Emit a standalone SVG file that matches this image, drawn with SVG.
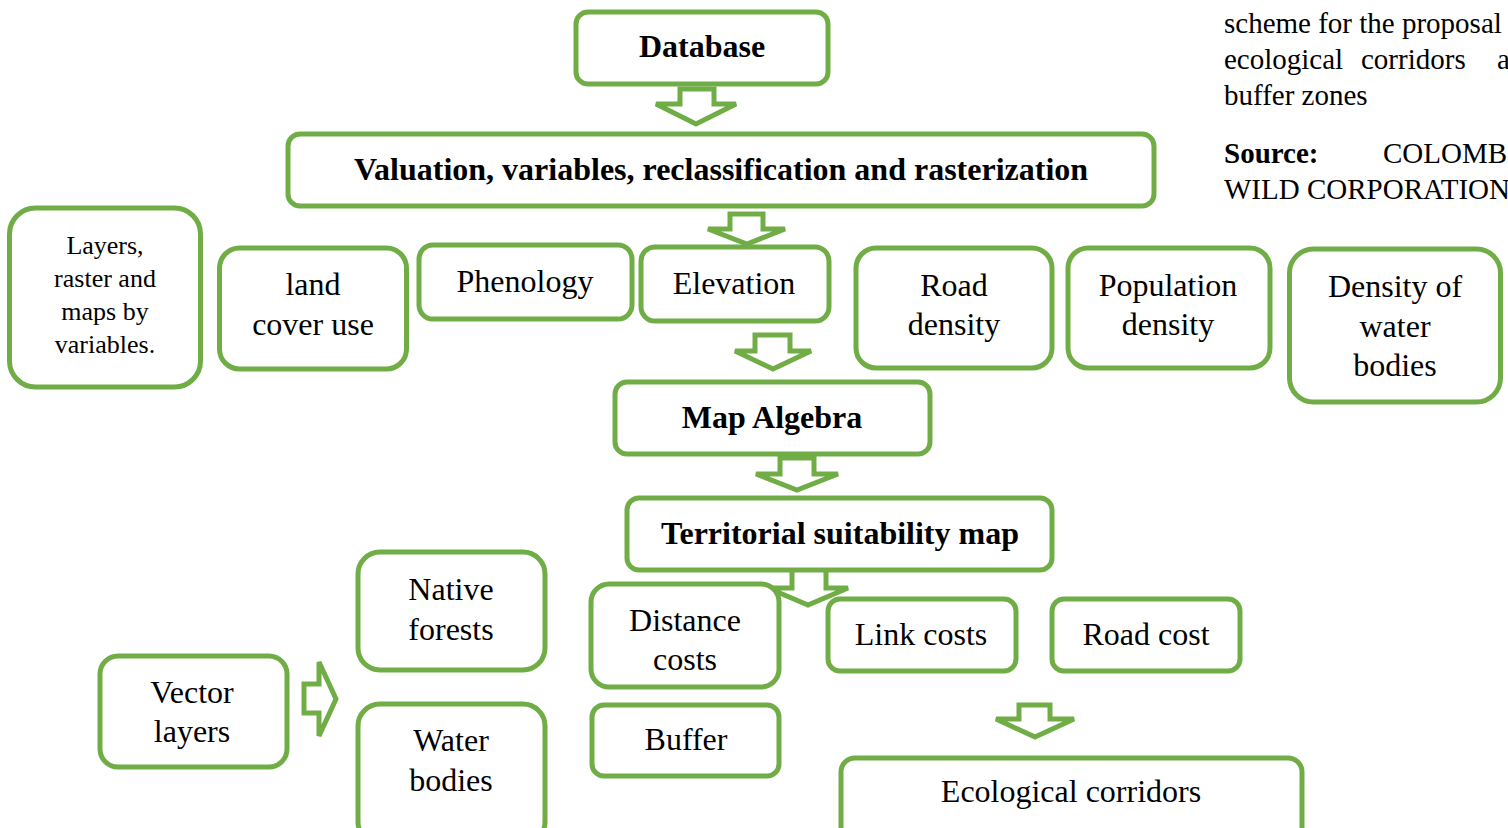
<svg xmlns="http://www.w3.org/2000/svg" width="1508" height="828" viewBox="0 0 1508 828">
<style>
.b{fill:#fff;stroke:#70AD47;stroke-width:5}
.a{fill:#fff;stroke:#70AD47;stroke-width:5;stroke-linejoin:miter}
text{font-family:"Liberation Serif","Times New Roman",serif;fill:#000}
.t{font-size:32px;text-anchor:middle}
.tb{font-size:32px;font-weight:bold;text-anchor:middle}
.ts{font-size:26px;text-anchor:middle}
.c{font-size:29px}
</style>
<rect width="1508" height="828" fill="#fff"/>
<g id="caption">
<text class="c" x="1224" y="33">scheme for the proposal</text>
<text class="c" x="1224" y="69">ecological</text>
<text class="c" x="1361" y="69">corridors</text>
<text class="c" x="1497" y="69">a</text>
<text class="c" x="1224" y="105">buffer zones</text>
<text class="c" x="1224" y="163" font-weight="bold">Source:</text>
<text class="c" x="1383" y="163">COLOMB</text>
<text class="c" x="1224" y="199">WILD CORPORATION</text>
</g>
<g id="connectors">
<polygon class="a" points="680,89 714,89 714,104 736,104 696,124 656,104 680,104"/>
<polygon class="a" points="730,214 763,214 763,229 785,229 747,244 708,229 730,229"/>
<polygon class="a" points="755,335 790,335 790,351 811,351 773,369 735,351 755,351"/>
<polygon class="a" points="780,458 814,458 814,474 838,474 797,490 756,474 780,474"/>
<polygon class="a" points="792,566 826,566 826,588 848,588 808,605 768,588 792,588"/>
<polygon class="a" points="304,684 319,684 319,662 336,699 319,736 319,713 304,713"/>
<polygon class="a" points="1019,705 1050,705 1050,719 1074,719 1035,737 996,719 1019,719"/>
</g>
<g id="database"><rect class="b" x="576" y="12" width="252" height="72" rx="12"/><text class="tb" x="702" y="57">Database</text></g>
<g id="valuation"><rect class="b" x="288" y="134" width="866" height="72" rx="12"/><text class="tb" x="721" y="180">Valuation, variables, reclassification and rasterization</text></g>
<g id="layers"><rect class="b" x="9.500" y="208" width="191" height="179" rx="26"/>
<text class="ts" x="105" y="254">Layers,</text><text class="ts" x="105" y="287">raster and</text><text class="ts" x="105" y="320">maps by</text><text class="ts" x="105" y="353">variables.</text></g>
<g id="landcover"><rect class="b" x="219.500" y="248" width="187" height="121" rx="20"/><text class="t" x="313" y="295">land</text><text class="t" x="313" y="335">cover use</text></g>
<g id="phenology"><rect class="b" x="419" y="245" width="213" height="74" rx="14"/><text class="t" x="525" y="292">Phenology</text></g>
<g id="elevation"><rect class="b" x="641" y="247" width="188" height="74" rx="14"/><text class="t" x="734" y="294">Elevation</text></g>
<g id="road"><rect class="b" x="856" y="248" width="196" height="120" rx="20"/><text class="t" x="954" y="296">Road</text><text class="t" x="954" y="335">density</text></g>
<g id="population"><rect class="b" x="1068" y="248" width="202" height="120" rx="20"/><text class="t" x="1168" y="296">Population</text><text class="t" x="1168" y="335">density</text></g>
<g id="waterdensity"><rect class="b" x="1289.500" y="249" width="211" height="153" rx="24"/><text class="t" x="1395" y="297">Density of</text><text class="t" x="1395" y="337">water</text><text class="t" x="1395" y="376">bodies</text></g>
<g id="mapalgebra"><rect class="b" x="615" y="382" width="315" height="72" rx="12"/><text class="tb" x="772" y="428">Map Algebra</text></g>
<g id="territorial"><rect class="b" x="627" y="498" width="425" height="72" rx="12"/><text class="tb" x="840" y="544">Territorial suitability map</text></g>
<g id="native"><rect class="b" x="358" y="552" width="187" height="118" rx="22"/><text class="t" x="451" y="600">Native</text><text class="t" x="451" y="640">forests</text></g>
<g id="distance"><rect class="b" x="591" y="584" width="188" height="103" rx="18"/><text class="t" x="685" y="631">Distance</text><text class="t" x="685" y="670">costs</text></g>
<g id="link"><rect class="b" x="828" y="599" width="188" height="72" rx="12"/><text class="t" x="921" y="645">Link costs</text></g>
<g id="roadcost"><rect class="b" x="1052" y="599" width="188" height="72" rx="12"/><text class="t" x="1146" y="645">Road cost</text></g>
<g id="vector"><rect class="b" x="100" y="656" width="187" height="111" rx="18"/><text class="t" x="192" y="703">Vector</text><text class="t" x="192" y="742">layers</text></g>
<g id="waterbodies"><rect class="b" x="358" y="704" width="187" height="140" rx="22"/><text class="t" x="451" y="751">Water</text><text class="t" x="451" y="791">bodies</text></g>
<g id="buffer"><rect class="b" x="592" y="705" width="187" height="71" rx="12"/><text class="t" x="686" y="750">Buffer</text></g>
<g id="ecological"><rect class="b" x="841" y="758" width="461" height="90" rx="14"/><text class="t" x="1071" y="802">Ecological corridors</text></g>
</svg>
